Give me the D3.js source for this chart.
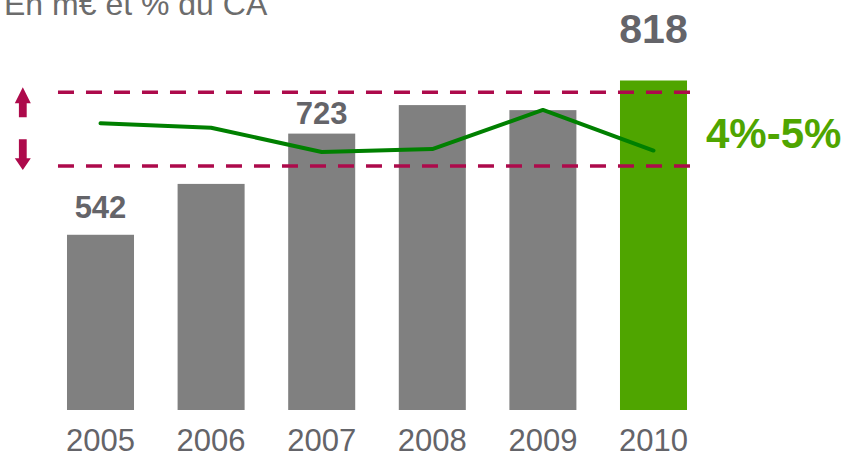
<!DOCTYPE html>
<html>
<head>
<meta charset="utf-8">
<script src="https://cdn.jsdelivr.net/npm/d3@7"></script>
<style>
  body { margin: 0; background: #fff; }
  text { font-family: "Liberation Sans", Arial, sans-serif; }
</style>
</head>
<body>
<div id="chart"></div>
<script>
// values
var years = ["2005", "2006", "2007", "2008", "2009", "2010"];
var amounts = [542, 633, 723, 774, 765, 818];       // m€
var shares = [4.58, 4.52, 4.19, 4.23, 4.76, 4.21];  // % du CA
var shownLabels = ["2005", "2007", "2010"];
var band = [4, 5];                                  // target range in %
var bandLabel = "4%-5%";
var title = "En m€ et % du CA";

var width = 851, height = 453;

var svg = d3.select('#chart').append('svg')
    .attr('width', width)
    .attr('height', height);

var x = d3.scaleBand()
    .domain(years)
    .range([45.2, 708.8])
    .paddingInner(0.394)
    .paddingOuter(0.197);

var yBar = d3.scaleLinear()
    .domain([228.5, 818])
    .range([410, 80.5]);

var yPct = d3.scaleLinear()
    .domain([4, 5])
    .range([166, 92.3]);

var grey = "#808080", green = "#4fa500", crimson = "#ad0a4b", textGrey = "#646469";

// title (cut off at the top)
svg.append('text')
    .attr('x', 4)
    .attr('y', 15)
    .attr('font-size', 32)
    .attr('fill', '#6c6c6c')
    .text(title);

// bars
svg.append('g').selectAll('rect')
    .data(years)
    .enter().append('rect')
    .attr('x', function(d) { return x(d); })
    .attr('y', function(d, i) { return yBar(amounts[i]); })
    .attr('width', x.bandwidth())
    .attr('height', function(d, i) { return yBar.range()[0] - yBar(amounts[i]); })
    .style('fill', function(d, i) { return i == years.length - 1 ? green : grey; });

// value labels
svg.append('g').selectAll('text')
    .data(years.filter(function(d) { return shownLabels.indexOf(d) >= 0; }))
    .enter().append('text')
    .attr('x', function(d) { return x(d) + x.bandwidth() / 2; })
    .attr('y', function(d) {
        var i = years.indexOf(d);
        return d == "2010" ? 43 : yBar(amounts[i]) - (d == "2005" ? 17 : 10);
    })
    .attr('text-anchor', 'middle')
    .attr('font-weight', 'bold')
    .attr('font-size', function(d) { return d == "2010" ? 41 : 31; })
    .attr('fill', textGrey)
    .text(function(d) { return amounts[years.indexOf(d)]; });

// year labels
svg.append('g').selectAll('text')
    .data(years)
    .enter().append('text')
    .attr('x', function(d) { return x(d) + x.bandwidth() / 2; })
    .attr('y', 451)
    .attr('text-anchor', 'middle')
    .attr('font-size', 31)
    .attr('fill', textGrey)
    .text(function(d) { return d; });

// dashed band lines
var x0 = x(years[0]) - 9, x1 = x(years[years.length - 1]) + x.bandwidth() + 3;
svg.append('g').selectAll('line')
    .data(band)
    .enter().append('line')
    .attr('x1', x0)
    .attr('x2', x1)
    .attr('y1', function(d) { return yPct(d); })
    .attr('y2', function(d) { return yPct(d); })
    .style('stroke', crimson)
    .style('stroke-width', 3.5)
    .style('stroke-dasharray', '16,12');

// share line
var line = d3.line()
    .x(function(d, i) { return x(years[i]) + x.bandwidth() / 2; })
    .y(function(d) { return yPct(d); });

svg.append('path')
    .datum(shares)
    .attr('d', line)
    .style('fill', 'none')
    .style('stroke', '#008000')
    .style('stroke-width', 4)
    .style('stroke-linecap', 'round')
    .style('stroke-linejoin', 'round');

// arrows
var ax = 22.8;
var top5 = yPct(5), bot4 = yPct(4);
svg.append('path')
    .attr('d', 'M' + ax + ',' + (top5 - 5) + ' L' + (ax + 8) + ',' + (top5 + 11) +
        ' L' + (ax + 3.9) + ',' + (top5 + 11) + ' L' + (ax + 3.9) + ',' + (top5 + 25) +
        ' L' + (ax - 3.9) + ',' + (top5 + 25) + ' L' + (ax - 3.9) + ',' + (top5 + 11) +
        ' L' + (ax - 8) + ',' + (top5 + 11) + 'Z')
    .style('fill', crimson);
svg.append('path')
    .attr('d', 'M' + ax + ',' + (bot4 + 4) + ' L' + (ax + 8) + ',' + (bot4 - 7.7) +
        ' L' + (ax + 3.9) + ',' + (bot4 - 7.7) + ' L' + (ax + 3.9) + ',' + (bot4 - 26.7) +
        ' L' + (ax - 3.9) + ',' + (bot4 - 26.7) + ' L' + (ax - 3.9) + ',' + (bot4 - 7.7) +
        ' L' + (ax - 8) + ',' + (bot4 - 7.7) + 'Z')
    .style('fill', crimson);

// band label
svg.append('text')
    .attr('x', 706)
    .attr('y', 148)
    .attr('font-size', 42)
    .attr('font-weight', 'bold')
    .attr('fill', green)
    .text(bandLabel);
</script>
</body>
</html>
